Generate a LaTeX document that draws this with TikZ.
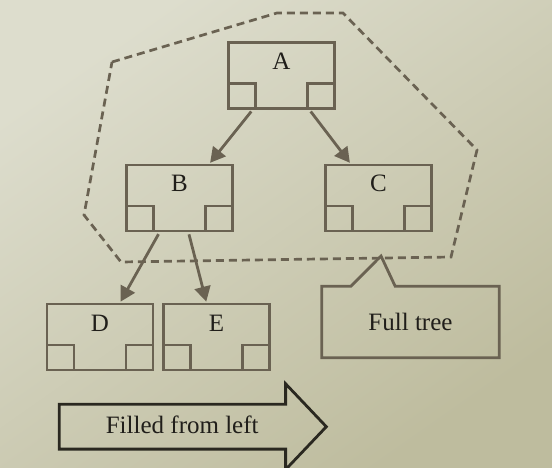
\documentclass[tikz,border=0pt]{standalone}
\usepackage{fontspec}
\setmainfont{Liberation Serif}
\usetikzlibrary{shapes.arrows, arrows.meta, positioning}
\definecolor{bglight}{RGB}{221,221,205}
\definecolor{bgdark}{RGB}{190,188,158}
\definecolor{boxline}{RGB}{106,98,82}
\definecolor{bigline}{RGB}{42,40,32}
\definecolor{inktext}{RGB}{32,30,26}
\tikzset{
    heapnode/.style={rectangle, draw=boxline, line width=2.8pt, inner sep=0pt, minimum width=106pt, text height=27pt, text depth=39pt, font=\fontsize{25}{28}\selectfont, text=inktext,
        path picture={\draw[boxline, line width=2.8pt] (path picture bounding box.south west) rectangle ++(27pt,25pt) (path picture bounding box.south east) rectangle ++(-27pt,25pt);}},
    arrow/.style={draw=boxline, line width=2.8pt, -{Triangle[length=15pt,width=16pt]}, shorten <=2pt, shorten >=1pt},
    hull/.style={draw=boxline, line width=2.7pt, dash pattern=on 8pt off 5pt},
    callout/.style={draw=boxline, line width=2.8pt, line join=miter},
    fillarrow/.style={single arrow, draw=bigline, line width=2.8pt, single arrow head extend=20.5pt, single arrow tip angle=93, minimum height=267pt, inner ysep=0pt, text height=28pt, text depth=14pt, font=\fontsize{25}{28}\selectfont, text=inktext}
}
\begin{document}
\begin{tikzpicture}[x=1pt, y=-1pt]
    \shade[shading=axis, top color=bglight, bottom color=bgdark, shading angle=35] (0,0) rectangle (552,468);
    \useasboundingbox (0,0) rectangle (552,468);

    % the full tree
    \draw [hull] (112,62) -- (277,13) -- (343,13) -- (477,150) -- (451,257) -- (121,262) -- (84,215) -- cycle;

    \node (a) [heapnode] at (281.5,75.5) {A};
    \node (b) [heapnode] at (179.5,198) {B};
    \node (c) [heapnode] at (378.5,198) {C};
    \node (d) [heapnode] at (100,337) {D};
    \node (e) [heapnode] at (216.5,337) {E};

    \draw [arrow] ([xshift=-29pt]a.south) -- ([xshift=30pt]b.north);
    \draw [arrow] ([xshift=28pt]a.south) -- ([xshift=-28pt]c.north);
    \draw [arrow] ([xshift=-20pt]b.south) -- ([xshift=20pt]d.north);
    \draw [arrow] ([xshift=9pt]b.south) -- ([xshift=-10pt]e.north);

    % callout
    \node (tree) [minimum width=177pt, minimum height=71pt, inner sep=0pt, font=\fontsize{25}{28}\selectfont, text=inktext] at (410.5,322) {Full tree};
    \coordinate (tip) at (381,256);
    \draw [callout] (tree.north west) -- ([xshift=29pt]tree.north west) -- (tip) -- ([xshift=-104pt]tree.north east) -- (tree.north east) -- (tree.south east) -- (tree.south west) -- cycle;

    \node (fill) [fillarrow] at (182.2,426.7) {Filled from left\hspace{21pt}};
\end{tikzpicture}
\end{document}
